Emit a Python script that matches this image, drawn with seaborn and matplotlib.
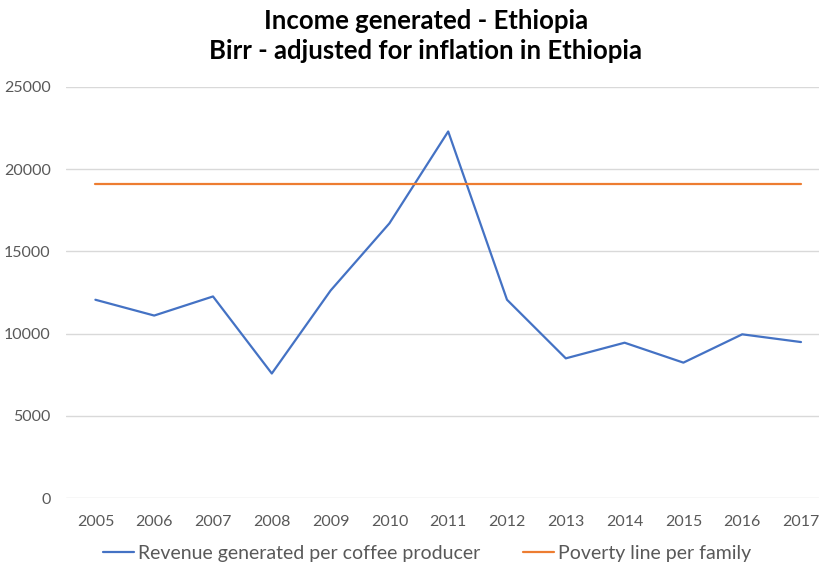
import numpy as np
import pandas as pd
import matplotlib
matplotlib.use("Agg")
import matplotlib.pyplot as plt
import seaborn as sns

# data
years = ["2005", "2006", "2007", "2008", "2009", "2010", "2011",
         "2012", "2013", "2014", "2015", "2016", "2017"]
revenue = [12060, 11100, 12260, 7580, 12620, 16700, 22280,
           12060, 8500, 9450, 8240, 9960, 9490]
poverty = [19100] * len(years)

df = pd.DataFrame({"pos": np.arange(len(years)), "revenue": revenue, "poverty": poverty})

sns.set_style("white")
plt.rcParams["font.family"] = ["Lato", "DejaVu Sans"]

fig = plt.figure(figsize=(8.2, 5.67), dpi=100)
ax = fig.add_axes([66 / 820, 68.7 / 567, 764.4 / 820, 411.6 / 567])

sns.lineplot(data=df, x="pos", y="revenue", ax=ax, color="#4472C4", linewidth=1.6,
             label="Revenue generated per coffee producer")
sns.lineplot(data=df, x="pos", y="poverty", ax=ax, color="#ED7D31", linewidth=1.6,
             label="Poverty line per family")

ax.set_xlim(-0.5, len(years) - 0.5)
ax.set_ylim(0, 25000)
ax.set_yticks(range(0, 25001, 5000))
ax.set_xticks(df["pos"])
ax.set_xticklabels(years)
ax.grid(axis="y", color="#D9D9D9", linewidth=1)
ax.set_axisbelow(True)
for s in ax.spines.values():
    s.set_visible(False)
ax.tick_params(axis="both", length=0, labelsize=11.5, colors="#595959")
ax.tick_params(axis="y", pad=11)
ax.tick_params(axis="x", pad=12)
ax.set_xlabel("")
ax.set_ylabel("")

handles, labels = ax.get_legend_handles_labels()
ax.get_legend().remove()
fig.legend(handles, labels, loc="center", bbox_to_anchor=(427 / 820, 1 - 553 / 567),
           ncol=2, frameon=False, fontsize=14, labelcolor="#595959",
           handlelength=1.6, handletextpad=0.2, columnspacing=2.2)

fig.text(426 / 820, 1 - 21 / 567, "Income generated - Ethiopia", ha="center", va="center",
         fontsize=18.5, fontweight="bold", color="black")
fig.text(426 / 820, 1 - 51 / 567, "Birr - adjusted for inflation in Ethiopia", ha="center",
         va="center", fontsize=18.5, fontweight="bold", color="black")

fig.savefig("out.png", dpi=100)
